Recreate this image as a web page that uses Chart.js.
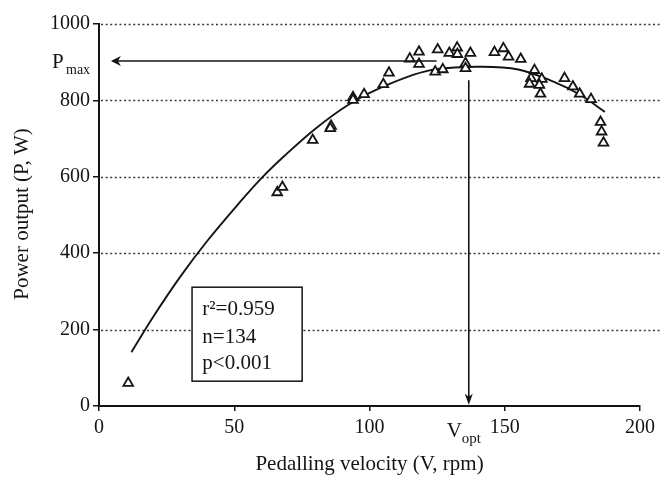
<!DOCTYPE html>
<html><head><meta charset="utf-8">
<script src="https://cdn.jsdelivr.net/npm/chart.js@4/dist/chart.umd.min.js"></script>
<style>html,body{margin:0;padding:0;background:#fff}</style>
</head><body>
<canvas id="c" width="660" height="478"></canvas>
<script>
// ---- data ----
const velocity = [10.8, 65.9, 67.8, 79.0, 85.8, 85.5, 93.9, 93.9, 98.0, 105.1, 107.2, 114.9, 118.3, 118.3,
  124.3, 127.1, 125.2, 129.5, 132.4, 132.5, 137.3, 135.5, 135.5, 146.2, 149.5, 151.4, 155.9, 161.0,
  159.7, 159.2, 163.7, 162.8, 163.2, 172.1, 175.2, 177.7, 181.9, 185.4, 185.8, 186.5];
const power = [60, 559, 573, 696, 733, 727, 808, 801, 816, 842, 872, 909, 927, 895,
  875, 881, 933, 924, 938, 921, 924, 897, 884, 926, 936, 914, 908, 879,
  858, 843, 856, 840, 817, 858, 836, 817, 803, 743, 718, 689];
const fitVelocity = [12, 20, 30, 40, 52, 60, 68.6, 80, 92.5, 105, 121.8, 140, 155, 168, 178, 187];
const fitPower   = [141, 233, 338, 432, 533, 596, 655, 726, 790, 836, 878, 888, 881, 849, 814, 770];
const xTickValues = [0, 50, 100, 150, 200];
const yTickValues = [0, 200, 400, 600, 800, 1000];
const statsText = ['r\u00B2=0.959', 'n=134', 'p<0.001'];
const pMax = 903;       // W, level of the Pmax arrow
const vOpt = 136.7;     // rpm, position of the Vopt arrow

// annotation geometry (data units)
const pMaxArrowFrom = 124.8, pMaxArrowTo = 4.4;
const vOptArrowFrom = 853, vOptArrowTo = 3;
const statsBox = {x0: 34.4, x1: 75.1, y0: 311, y1: 65, textX: 38.2, baselines: [237, 166, 98]};

const SERIF = '"Liberation Serif", "DejaVu Serif", serif';
const INK = '#141414';

const annot = {
  id: 'annot',
  beforeDatasetsDraw(chart) {
    const {ctx, scales: {x, y}, chartArea: a} = chart;
    ctx.save();
    ctx.strokeStyle = '#3a3a3a';
    ctx.lineWidth = 1.6;
    ctx.setLineDash([2, 2.6]);
    yTickValues.filter(v => v > 0).forEach(v => {
      const py = Math.round(y.getPixelForValue(v)) + 0.5;
      ctx.beginPath(); ctx.moveTo(a.left + 2, py); ctx.lineTo(chart.width, py); ctx.stroke();
    });
    ctx.restore();
  },
  afterDatasetsDraw(chart) {
    const {ctx, scales: {x, y}, chartArea: a} = chart;
    ctx.save();
    ctx.strokeStyle = INK; ctx.fillStyle = INK; ctx.lineWidth = 1.6;
    // Pmax horizontal arrow
    const py = y.getPixelForValue(pMax);
    const hx0 = x.getPixelForValue(pMaxArrowFrom), hx1 = x.getPixelForValue(pMaxArrowTo);
    ctx.beginPath(); ctx.moveTo(hx0, py); ctx.lineTo(hx1 + 6, py); ctx.stroke();
    ctx.beginPath(); ctx.moveTo(hx1, py); ctx.lineTo(hx1 + 10, py - 5); ctx.lineTo(hx1 + 7, py); ctx.lineTo(hx1 + 10, py + 5); ctx.closePath(); ctx.fill();
    // Vopt vertical arrow
    const vx = x.getPixelForValue(vOpt);
    const vy0 = y.getPixelForValue(vOptArrowFrom), vy1 = y.getPixelForValue(vOptArrowTo);
    ctx.beginPath(); ctx.moveTo(vx, vy0); ctx.lineTo(vx, vy1 - 6); ctx.stroke();
    ctx.beginPath(); ctx.moveTo(vx, vy1); ctx.lineTo(vx - 4, vy1 - 11); ctx.lineTo(vx, vy1 - 8); ctx.lineTo(vx + 4, vy1 - 11); ctx.closePath(); ctx.fill();
    // stats box
    const bx0 = x.getPixelForValue(statsBox.x0), bx1 = x.getPixelForValue(statsBox.x1);
    const by0 = y.getPixelForValue(statsBox.y0), by1 = y.getPixelForValue(statsBox.y1);
    ctx.fillStyle = '#fff';
    ctx.fillRect(bx0, by0, bx1 - bx0, by1 - by0);
    ctx.lineWidth = 1.5;
    ctx.strokeRect(bx0, by0, bx1 - bx0, by1 - by0);
    ctx.fillStyle = INK;
    ctx.font = '21px ' + SERIF;
    ctx.textBaseline = 'alphabetic'; ctx.textAlign = 'left';
    statsText.forEach((t, i) => ctx.fillText(t, x.getPixelForValue(statsBox.textX), y.getPixelForValue(statsBox.baselines[i])));
    // Pmax label
    ctx.font = '21px ' + SERIF;
    ctx.fillText('P', a.left - 47, py + 7);
    ctx.font = '14px ' + SERIF;
    ctx.fillText('max', a.left - 33, py + 13);
    // Vopt label
    const tickY = a.bottom;
    ctx.font = '21px ' + SERIF;
    ctx.fillText('V', vx - 22, tickY + 31);
    ctx.font = '15px ' + SERIF;
    ctx.fillText('opt', vx - 7, tickY + 37);
    // axis titles
    ctx.font = '21px ' + SERIF;
    ctx.textAlign = 'center';
    ctx.fillText('Pedalling velocity (V, rpm)', (a.left + a.right) / 2, 470);
    ctx.save();
    ctx.translate(28, (a.top + a.bottom) / 2 - 1);
    ctx.rotate(-Math.PI / 2);
    ctx.fillText('Power output (P, W)', 0, 0);
    ctx.restore();
    ctx.restore();
  }
};

new Chart(document.getElementById('c'), {
  type: 'scatter',
  data: {
    datasets: [
      {
        type: 'line',
        data: fitVelocity.map((v, i) => ({x: v, y: fitPower[i]})),
        borderColor: INK, borderWidth: 1.9, pointRadius: 0, tension: 0.35,
        fill: false, order: 2
      },
      {
        data: velocity.map((v, i) => ({x: v, y: power[i]})),
        pointStyle: 'triangle', pointRadius: 5.6, borderWidth: 1.8,
        borderColor: INK, backgroundColor: '#fff', order: 1
      }
    ]
  },
  options: {
    responsive: false, animation: false, devicePixelRatio: 1,
    layout: {padding: {top: 24, right: 17, left: 0, bottom: 0}},
    plugins: {legend: {display: false}, tooltip: {enabled: false}},
    scales: {
      x: {
        type: 'linear', min: 0, max: 200,
        afterBuildTicks: s => { s.ticks = xTickValues.map(v => ({value: v})); },
        afterFit: s => { s.height = 72; },
        ticks: {font: {family: SERIF, size: 20}, color: INK, padding: 5, maxRotation: 0,
                callback: v => String(v)},
        grid: {drawOnChartArea: false, drawTicks: true, tickLength: 5, color: INK, lineWidth: 1.5},
        border: {display: true, color: INK, width: 2}
      },
      y: {
        type: 'linear', min: 0, max: 1000,
        afterBuildTicks: s => { s.ticks = yTickValues.map(v => ({value: v})); },
        afterFit: s => { s.width = 99; },
        ticks: {font: {family: SERIF, size: 20}, color: INK, padding: 3,
                callback: v => String(v)},
        grid: {drawOnChartArea: false, drawTicks: true, tickLength: 6, color: INK, lineWidth: 1.5},
        border: {display: true, color: INK, width: 2}
      }
    }
  },
  plugins: [annot]
});
</script>
</body></html>
